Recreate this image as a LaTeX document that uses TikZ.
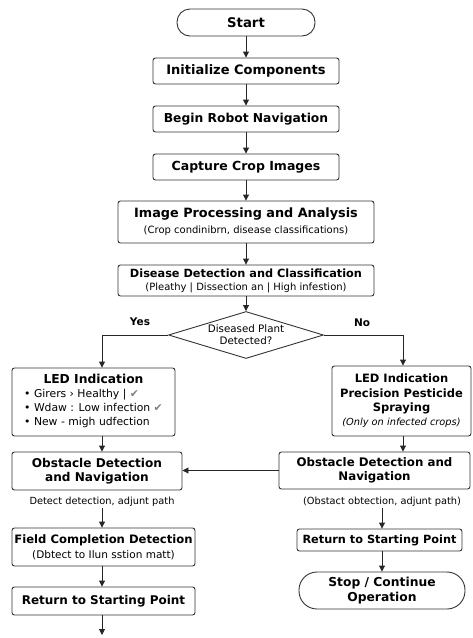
\documentclass[tikz,border=0pt]{standalone}
\usepackage{fontspec}
\setmainfont{DejaVu Sans}
\usetikzlibrary{shapes.geometric,arrows.meta,calc}
\begin{document}
\begin{tikzpicture}[x=1pt,y=-1pt,
  box/.style={draw=black!80,line width=0.9pt,rounded corners=2.5pt,align=center,inner sep=1pt,fill=white},
  pill/.style={box,rounded corners=13pt},
  ttl/.style={font=\bfseries\fontsize{12.7}{14}\selectfont},
  arr/.style={-{Triangle[length=6pt,width=6pt]},line width=0.9pt,draw=black!85},
  note/.style={font=\fontsize{9.8}{11}\selectfont,inner sep=1pt}]
\useasboundingbox (0,0) rectangle (472,638);
\node[pill,ttl,font=\bfseries\fontsize{13.3}{14}\selectfont,minimum width=138pt,minimum height=27pt] (start) at (246,22.5) {Start};
\node[box,ttl,font=\bfseries\fontsize{13}{14}\selectfont,minimum width=186pt,minimum height=26pt] (init) at (246,71) {Initialize Components};
\node[box,ttl,font=\bfseries\fontsize{12.3}{14}\selectfont,minimum width=186pt,minimum height=26pt] (begin) at (246,119) {Begin Robot Navigation};
\node[box,ttl,font=\bfseries\fontsize{12.5}{14}\selectfont,minimum width=186pt,minimum height=26pt] (capt) at (246,167) {Capture Crop Images};
\node[box,font=\fontsize{10}{16}\selectfont,minimum width=256pt,minimum height=42pt] (proc) at (246,222)
  {{\bfseries\fontsize{12.8}{16}\selectfont Image Processing and Analysis}\\
   {\fontsize{10}{16}\selectfont (Crop condinibrn, disease classifications)}};
\node[box,font=\fontsize{10}{13}\selectfont,minimum width=256pt,minimum height=31pt] (dis) at (246,280.5)
  {{\bfseries\fontsize{11.3}{13}\selectfont Disease Detection and Classification}\\
   {\fontsize{10}{13}\selectfont (Pleathy | Dissection an | High infestion)}};
\node[draw=black!80,line width=0.9pt,diamond,aspect=3.3,minimum width=155pt,minimum height=47pt,
  inner sep=0pt,align=center,font=\fontsize{10.3}{12}\selectfont] (dec) at (246,335)
  {Diseased Plant\\Detected?};
\node[font=\bfseries\fontsize{10.5}{12}\selectfont] (yes) at (140,322) {Yes};
\node[font=\bfseries\fontsize{10.5}{12}\selectfont] (no) at (362,323) {No};
\node[box,font=\fontsize{10.8}{14}\selectfont,minimum width=163pt,minimum height=68pt] (ledL) at (93.5,402)
  {\begin{tabular}{@{}l@{}}
   \multicolumn{1}{@{}c@{}}{\bfseries\fontsize{12.3}{14}\selectfont LED Indication}\\
   • Girers › Healthy | {\color{gray}✔}\\
   • Wdaw : Low infection {\color{gray}✔}\\
   • New - migh udfection
   \end{tabular}};
\node[box,font=\fontsize{11.5}{14.3}\selectfont,minimum width=139pt,minimum height=70pt] (ledR) at (401.5,401)
  {{\bfseries LED Indication}\\
   {\bfseries Precision Pesticide}\\
   {\bfseries Spraying}\\
   {\itshape\fontsize{9.8}{14.3}\selectfont (Only on infected crops)}};
\node[box,ttl,font=\bfseries\fontsize{12.1}{14}\selectfont,minimum width=170pt,minimum height=38pt] (obsL) at (97,471)
  {Obstacle Detection\\and Navigation};
\node[box,ttl,font=\bfseries\fontsize{11.8}{14}\selectfont,minimum width=191pt,minimum height=37pt] (obsR) at (374.5,470.5)
  {Obstacle Detection and\\Navigation};
\node[note] (tL) at (102,502) {Detect detection, adjunt path};
\node[note] (tR) at (382,502) {(Obstact obtection, adjunt path)};
\node[box,font=\fontsize{10.5}{15}\selectfont,minimum width=183pt,minimum height=38pt] (field) at (103.5,547)
  {{\bfseries\fontsize{11.6}{15}\selectfont Field Completion Detection}\\
   {\fontsize{10.5}{15}\selectfont (Dbtect to Ilun sstion matt)}};
\node[box,ttl,font=\bfseries\fontsize{12}{14}\selectfont,minimum width=183pt,minimum height=28pt] (retL) at (103.5,601) {Return to Starting Point};
\node[box,ttl,font=\bfseries\fontsize{11.3}{14}\selectfont,minimum width=165pt,minimum height=22pt] (retR) at (379.5,540) {Return to Starting Point};
\node[pill,ttl,font=\bfseries\fontsize{12.3}{14.5}\selectfont,rounded corners=18pt,minimum width=166pt,minimum height=37pt] (stop) at (382,590.5)
  {Stop / Continue\\Operation};
\coordinate (lx) at (102,0);
\coordinate (rx) at (403,0);
\coordinate (rx2) at (382,0);
\coordinate (endL) at (102,635);
\draw[arr] (start) -- (init);
\draw[arr] (init) -- (begin);
\draw[arr] (begin) -- (capt);
\draw[arr] (capt) -- (proc);
\draw[arr] (proc) -- (dis);
\draw[arr] (dis) -- (dec);
\draw[arr] (dec.west) -| (lx |- ledL.north);
\draw[arr] (dec.east) -| (rx |- ledR.north);
\draw[arr] (lx |- ledL.south) -- (lx |- obsL.north);
\draw[arr] (rx |- ledR.south) -- (rx |- obsR.north);
\draw[arr] (obsR.west) -- (obsR.west -| obsL.east);
\draw[arr] (lx |- tL.south) -- (lx |- field.north);
\draw[arr] (lx |- field.south) -- (lx |- retL.north);
\draw[arr] (lx |- retL.south) -- (endL);
\draw[arr] (rx2 |- tR.south) -- (rx2 |- retR.north);
\draw[arr] (rx2 |- retR.south) -- (rx2 |- stop.north);
\end{tikzpicture}
\end{document}
